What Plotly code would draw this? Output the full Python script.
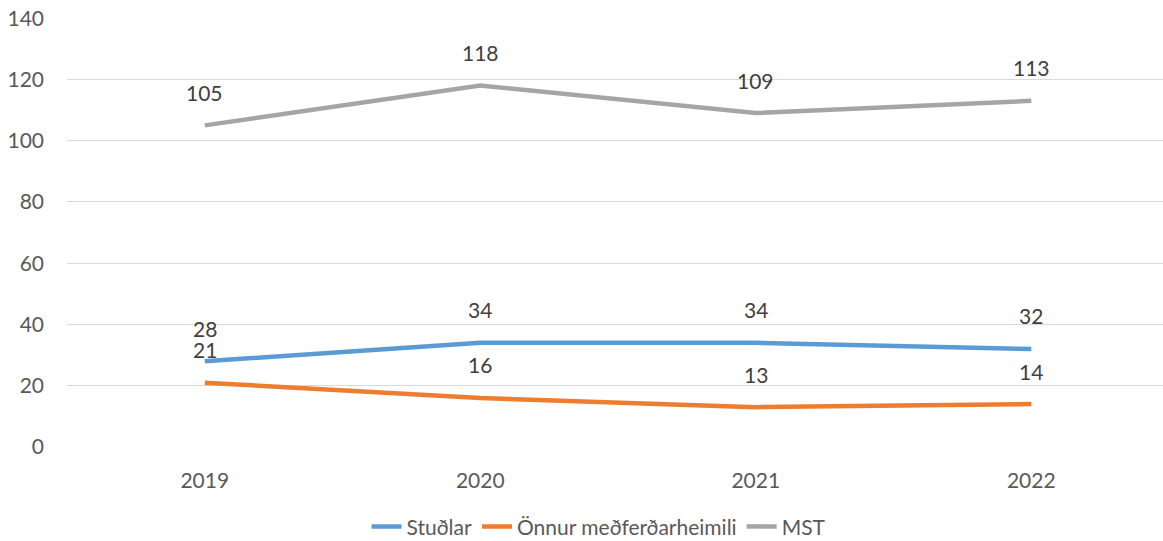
import plotly.graph_objects as go

years = ["2019", "2020", "2021", "2022"]
studlar = [28, 34, 34, 32]
onnur = [21, 16, 13, 14]
mst = [105, 118, 109, 113]
series_names = ["Stuðlar", "Önnur meðferðarheimili", "MST"]
colors = ["#5B9BD5", "#ED7D31", "#A5A5A5"]
y_ticks = [0, 20, 40, 60, 80, 100, 120, 140]

FONT = "Lato, Open Sans, sans-serif"

fig = go.Figure()
annotations = []
for name, vals, col in zip(series_names, [studlar, onnur, mst], colors):
    fig.add_trace(go.Scatter(
        x=years, y=vals, name=name, mode="lines",
        line=dict(color=col, width=4.5),
    ))
    for i, yv in enumerate(vals):
        annotations.append(dict(
            x=i, y=yv, xref="x", yref="y", text=str(yv), showarrow=False, yshift=33,
            yanchor="middle", font=dict(family=FONT, size=21, color="#404040"),
        ))

fig.update_layout(
    width=1163, height=541,
    margin=dict(l=67, r=0, t=18, b=94, autoexpand=False),
    paper_bgcolor="white", plot_bgcolor="white",
    font=dict(family=FONT, size=21, color="#595959"),
    annotations=annotations,
    showlegend=True,
    legend=dict(orientation="h", x=0.485, xanchor="center", y=-0.186, yanchor="middle",
                font=dict(family=FONT, size=21, color="#595959"),
                tracegroupgap=0),
    xaxis=dict(type="category", range=[-0.5, 3.478], showgrid=False, zeroline=False,
               showline=False, ticks="", ticklabelstandoff=19, automargin=False,
               tickfont=dict(size=21, color="#595959")),
    yaxis=dict(range=[0, 140.05], tickvals=y_ticks, showgrid=True, gridcolor="#D9D9D9",
               gridwidth=1.3, zeroline=False, showline=False, ticks="", automargin=False,
               ticklabelstandoff=22, tickfont=dict(size=21, color="#595959"),
               ticklabeloverflow="allow"),
)

# remove the default 8px body margin so the figure fills the window
fig.write_html("out.html", config={"displayModeBar": False},
               post_script="document.body.style.margin='0';")
